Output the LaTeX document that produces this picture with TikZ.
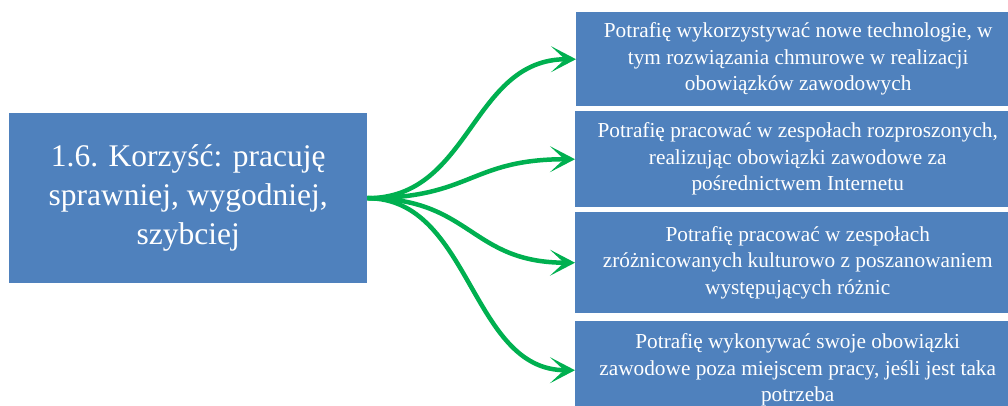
\documentclass[tikz,border=0pt]{standalone}
\usepackage{fontspec}
\setmainfont{Liberation Serif}
\usetikzlibrary{arrows.meta}
\definecolor{boxblue}{HTML}{4F81BD}
\definecolor{arrowgreen}{HTML}{00B050}
\begin{document}
\begin{tikzpicture}[x=1pt,y=-1pt,
  panel/.style={fill=boxblue, draw=none, text=white, align=center, inner sep=0pt, anchor=north west},
  title/.style={panel, font=\fontsize{31.5}{39}\selectfont},
  item/.style={panel, font=\fontsize{21.3}{26.5}\selectfont},
  link/.style={draw=arrowgreen, line width=4.5pt,
    -{Stealth[length=25pt,width=26pt,inset=14pt]}}]
\useasboundingbox (0,0) rectangle (1008,405);
\clip (0,0) rectangle (1008,405);

% main topic
\node[title, minimum width=358pt, minimum height=170pt] (t) at (9,113)
  {1.6. Korzyść: pracuję\\sprawniej, wygodniej,\\szybciej};

% outcomes
\node[item, minimum width=444pt, minimum height=94pt] (b1) at (576,12)
  {Potrafię wykorzystywać nowe technologie, w\\tym rozwiązania chmurowe w realizacji\\obowiązków zawodowych};
\node[item, minimum width=445pt, minimum height=96pt] (b2) at (575,111)
  {Potrafię pracować w zespołach rozproszonych,\\realizując obowiązki zawodowe za\\pośrednictwem Internetu};
\node[item, minimum width=445pt, minimum height=101pt] (b3) at (575,212)
  {Potrafię pracować w zespołach\\zróżnicowanych kulturowo z poszanowaniem\\występujących różnic};
\node[item, minimum width=445pt, minimum height=98pt] (b4) at (575,321)
  {Potrafię wykonywać swoje obowiązki\\zawodowe poza miejscem pracy, jeśli jest taka\\potrzeba};

% connectors
\foreach \b in {b1,b2,b3,b4}
  \draw[link] (t.east) to[out=0,in=180,out distance=104pt,in distance=105pt] (\b.west);
\end{tikzpicture}
\end{document}
